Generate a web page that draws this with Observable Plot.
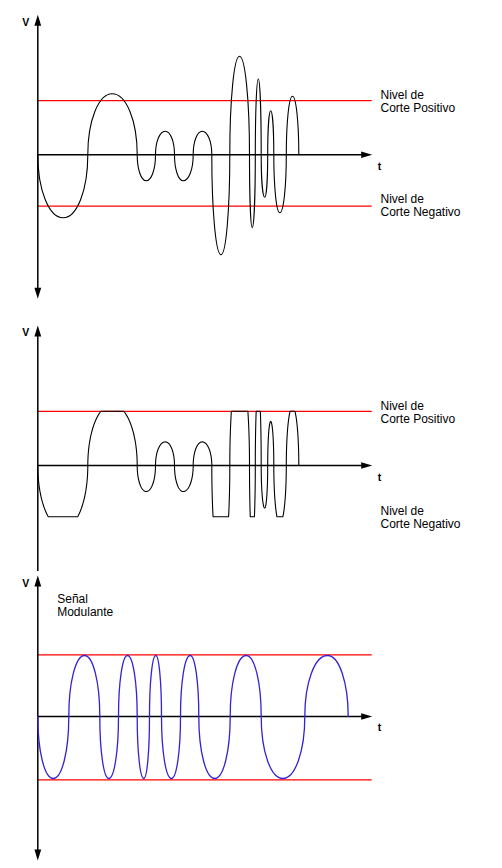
<!DOCTYPE html>
<html>
<head>
<meta charset="utf-8">
<script src="https://cdn.jsdelivr.net/npm/d3@7"></script>
<script src="https://cdn.jsdelivr.net/npm/@observablehq/plot@0.6"></script>
<style>
  html, body { margin: 0; padding: 0; background: #fff; }
  #chart { width: 502px; }
  #chart svg { display: block; }
</style>
</head>
<body>
<div id="chart"></div>
<script>
// ---------- DATA (t: time units, V: voltage units) ----------
// Panels 1 & 2: carrier signal — zero crossings and lobe extremes
const crossT = [0, 5.0, 9.94, 11.77, 13.67, 15.54, 17.40, 19.20, 21.17, 21.75, 22.34, 22.99, 23.60, 24.85, 26.10];
const peakT  = [2.54, 7.44, 10.84, 12.74, 14.54, 16.44, 18.32, 20.17, 21.44, 22.05, 22.69, 23.29, 24.20, 25.47];
const peakV  = [-6.3, 6.1, -2.6, 2.36, -2.6, 2.36, -10.0, 9.85, -7.28, 7.58, -4.25, 4.4, -5.8, 5.86];

// Panel 3: modulating signal — zero crossings and lobe extremes
const modCrossT = [0, 3.10, 6.20, 8.07, 9.94, 11.17, 12.37, 14.27, 16.10, 19.24, 22.34, 26.70, 31.04];
const modPeakT  = [1.54, 4.67, 7.10, 8.97, 10.60, 11.80, 13.37, 15.24, 17.70, 20.84, 24.50, 28.97];
const modPeakV  = [-6.2, 6.1, -6.2, 6.1, -6.2, 6.1, -6.2, 6.1, -6.2, 6.1, -6.2, 6.1];

// Clipping levels
const cutLevels = [5.42, -5.13];        // Nivel de Corte Positivo / Negativo
const modLevels = [6.17, -6.33];        // panel 3 reference lines

// Texts
const axisLabelV = "V";
const axisLabelT = "t";
const cutLabels = ["Nivel de\nCorte Positivo", "Nivel de\nCorte Negativo"];
const modLabel = "Señal\nModulante";

// ---------- helpers ----------
function interleave(cross, pt, pv) {
  const rows = [];
  for (let i = 0; i < cross.length; i++) {
    rows.push({t: cross[i], v: 0});
    if (i < pt.length) rows.push({t: pt[i], v: pv[i]});
  }
  return rows;
}
const carrier = interleave(crossT, peakT, peakV);
const modulating = interleave(modCrossT, modPeakT, modPeakV);

// Custom curve: each segment is a quarter-lobe (vertical tangent at crossings,
// horizontal tangent at extremes). Optional pixel clamp for the clipped panel.
function lobeCurve(k, clampTop, clampBottom) {
  const clamped = clampTop != null;
  const cy = (y) => clamped ? Math.max(clampTop, Math.min(clampBottom, y)) : y;
  return (context) => {
    let pts = [];
    return {
      areaStart() {}, areaEnd() {},
      lineStart() { pts = []; },
      point(x, y) { pts.push([+x, +y]); },
      lineEnd() {
        if (!pts.length) return;
        context.moveTo(pts[0][0], cy(pts[0][1]));
        for (let i = 0; i < pts.length - 1; i++) {
          const [x0, y0] = pts[i], [x1, y1] = pts[i + 1];
          let c1, c2;
          if (i % 2 === 0) { c1 = [x0, y0 + k * (y1 - y0)]; c2 = [x1 - k * (x1 - x0), y1]; }
          else { c1 = [x0 + k * (x1 - x0), y0]; c2 = [x1, y1 - k * (y1 - y0)]; }
          if (!clamped) {
            context.bezierCurveTo(c1[0], c1[1], c2[0], c2[1], x1, y1);
          } else {
            const N = 60;
            for (let s = 1; s <= N; s++) {
              const u = s / N, a = 1 - u;
              const bx = a*a*a*x0 + 3*a*a*u*c1[0] + 3*a*u*u*c2[0] + u*u*u*x1;
              const by = a*a*a*y0 + 3*a*a*u*c1[1] + 3*a*u*u*c2[1] + u*u*u*y1;
              context.lineTo(bx, cy(by));
            }
          }
        }
      }
    };
  };
}

// arrowhead symbols (tip at the anchor point)
const arrowUp    = {draw(c) { c.moveTo(0, 0); c.lineTo(-3.4, 11); c.lineTo(3.4, 11); c.closePath(); }};
const arrowDown  = {draw(c) { c.moveTo(0, 0); c.lineTo(-3.4, -11); c.lineTo(3.4, -11); c.closePath(); }};
const arrowRight = {draw(c) { c.moveTo(0, 0); c.lineTo(-11, -3.3); c.lineTo(-11, 3.3); c.closePath(); }};

const W = 502;
const tEnd = 33.44;
const FONT = "Liberation Sans, Arial, Helvetica, sans-serif";

function panel(cfg) {
  const {height, marginTop, marginBottom, yDomain, levels, signal, color, clip, bottomArrow, labels} = cfg;
  const yRange = [height - marginBottom, marginTop];
  const ys = d3.scaleLinear(yDomain, yRange);
  const curve = clip
    ? lobeCurve(0.56, ys(clip[0]), ys(clip[1]))
    : lobeCurve(0.56);
  const marks = [
    Plot.ruleY(levels, {x1: 0, x2: tEnd, stroke: "#ff0000", strokeWidth: 1.2}),
    Plot.ruleX([0], {x: 0, y1: bottomArrow ? yDomain[0] + 1 : yDomain[0], y2: yDomain[1] - 1, stroke: "black", strokeWidth: 1.5}),
    Plot.ruleY([0], {y: 0, x1: 0, x2: tEnd - 1, stroke: "black", strokeWidth: 1.5}),
    Plot.line(signal, {x: "t", y: "v", curve, stroke: color, strokeWidth: color === "black" ? 1.1 : 1.3}),
    Plot.dot([0], {x: 0, y: yDomain[1], symbol: arrowUp, fill: "black", stroke: "none"}),
    Plot.dot([0], {x: tEnd, y: 0, symbol: arrowRight, fill: "black", stroke: "none"}),
    Plot.text([axisLabelV], {x: -0.85, y: cfg.vLabelY, text: d => d, textAnchor: "end", lineAnchor: "top",
      fontSize: 10.5, fontWeight: "bold", fontFamily: FONT, fill: "black"}),
    Plot.text([axisLabelT], {x: 34.0, y: cfg.tLabelY, text: d => d, textAnchor: "start", lineAnchor: "top",
      fontSize: 10.5, fontWeight: "bold", fontFamily: FONT, fill: "black"})
  ];
  if (bottomArrow) marks.push(Plot.dot([0], {x: 0, y: yDomain[0], symbol: arrowDown, fill: "black", stroke: "none"}));
  for (const L of labels) {
    marks.push(Plot.text([L.text], {x: L.t, y: L.v, text: d => d, textAnchor: "start", lineAnchor: "top",
      lineHeight: 1.1, fontSize: 12, fontFamily: FONT, fill: "black"}));
  }
  const svg = Plot.plot({
    width: W, height,
    marginLeft: 37.3, marginRight: W - 371.7, marginTop, marginBottom,
    x: {domain: [0, tEnd], axis: null},
    y: {domain: yDomain, range: yRange, axis: null},
    style: {background: "white", overflow: "visible"},
    marks
  });
  return svg;
}

const chart = document.getElementById("chart");

chart.append(panel({
  height: 312, marginTop: 14.3, marginBottom: 13.7, yDomain: [-14.4, 14.0],
  levels: cutLevels, signal: carrier, color: "black", clip: null, bottomArrow: true,
  vLabelY: 13.6, tLabelY: -0.8,
  labels: [{text: cutLabels[0], t: 34.27, v: 6.5}, {text: cutLabels[1], t: 34.27, v: -3.9}]
}));

chart.append(panel({
  height: 259, marginTop: 13, marginBottom: 0, yDomain: [-10.6, 14.0],
  levels: [cutLevels[0]], signal: carrier, color: "black", clip: cutLevels, bottomArrow: false,
  vLabelY: 13.7, tLabelY: -0.8,
  labels: [{text: cutLabels[0], t: 34.27, v: 6.5}, {text: cutLabels[1], t: 34.27, v: -4.0}]
}));

chart.append(panel({
  height: 297, marginTop: 4, marginBottom: 8, yDomain: [-14.4, 14.1],
  levels: modLevels, signal: modulating, color: "#3322d4", clip: null, bottomArrow: true,
  vLabelY: 13.7, tLabelY: -0.7,
  labels: [{text: modLabel, t: 1.94, v: 12.33}]
}));
</script>
</body>
</html>
